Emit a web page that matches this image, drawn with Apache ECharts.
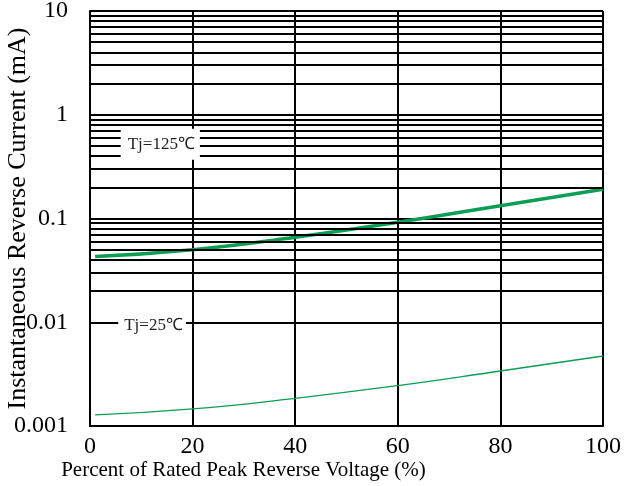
<!DOCTYPE html>
<html><head><meta charset="utf-8">
<script src="https://cdn.jsdelivr.net/npm/echarts@6/dist/echarts.min.js"></script>
<style>html,body{margin:0;padding:0;background:#fff}#c{width:624px;height:486px}</style>
</head><body><div id="c"></div>
<script>
var xTicks = [0, 20, 40, 60, 80, 100];
var yTickLabels = ["0.001", "0.01", "0.1", "1", "10"];
var decades = [0.001, 0.01, 0.1, 1];
var minorMultipliers = [2, 3, 4, 5, 6, 7, 8, 9];
var xPct = [1, 20, 40, 60, 80, 100];
var i125 = [0.043, 0.050, 0.066, 0.092, 0.133, 0.191];
var i25 = [0.00128, 0.00146, 0.00185, 0.00245, 0.00339, 0.00473];
var labels = [
  {text: "Tj=125℃", x: 13.7, y: 0.52},
  {text: "Tj=25℃", x: 12.1, y: 0.0092}
];

var FONT = "Liberation Serif";
var minorLines = [];
decades.forEach(function(d){ minorMultipliers.forEach(function(m){ minorLines.push({yAxis: +(d*m).toPrecision(3)}); }); });

function pairs(xs, ys){ return xs.map(function(x,i){ return [x, ys[i]]; }); }

var chart = echarts.init(document.getElementById('c'), null, {renderer:'canvas'});
chart.setOption({
  animation: false,
  backgroundColor: '#fff',
  grid: {left: 90, right: 21, top: 11, bottom: 60, containLabel: false, outerBoundsMode: 'none'},
  xAxis: {
    type: 'value', min: 0, max: 100, interval: 20,
    name: 'Percent of Rated Peak Reverse Voltage (%)',
    nameLocation: 'middle', nameGap: 34, nameMoveOverlap: false,
    nameTextStyle: {fontFamily: FONT, fontSize: 21, color: '#000', padding: [0, 206, 0, 0]},
    axisLine: {show: true, lineStyle: {color: '#000', width: 2}},
    axisTick: {show: false},
    axisLabel: {fontFamily: FONT, fontSize: 24, color: '#000', margin: 9},
    splitLine: {show: true, lineStyle: {color: '#000', width: 2}}
  },
  yAxis: {
    type: 'log', logBase: 10, min: 0.001, max: 10,
    name: 'Instantaneous Reverse Current (mA)',
    nameLocation: 'middle', nameGap: 59, nameMoveOverlap: false,
    nameTextStyle: {fontFamily: FONT, fontSize: 26, color: '#000'},
    axisLine: {show: true, lineStyle: {color: '#000', width: 2}},
    axisTick: {show: false},
    axisLabel: {fontFamily: FONT, fontSize: 24, color: '#000', margin: 22, padding: [6, 0, 0, 0],
      formatter: function(v){ var k = Math.round(Math.log10(v)) + 3; return yTickLabels[k] || ''; }},
    splitLine: {show: true, lineStyle: {color: '#000', width: 2}}
  },
  series: [
    {type: 'line', data: [], z: 1, silent: true,
     markLine: {silent: true, symbol: ['none','none'], animation: false,
       label: {show: false}, lineStyle: {color: '#000', width: 2, type: 'solid'},
       data: minorLines}},
    {type: 'line', name: 'Tj=125', data: pairs(xPct, i125), smooth: true, showSymbol: false, z: 3,
     lineStyle: {color: '#0a9e55', width: 3.5}},
    {type: 'line', name: 'Tj=25', data: pairs(xPct, i25), smooth: true, showSymbol: false, z: 3,
     lineStyle: {color: '#0a9e55', width: 1.3}},
    {type: 'scatter', z: 5, symbolSize: 0, silent: true, itemStyle: {opacity: 1},
     data: [
       {value: [labels[0].x, labels[0].y], name: labels[0].text, label: {padding: [7, 5, 7, 7]}},
       {value: [labels[1].x, labels[1].y], name: labels[1].text, label: {padding: [1, 3, 1, 6]}}
     ],
     label: {show: true, position: 'inside', formatter: function(p){ return p.name; },
       fontFamily: FONT, fontSize: 17, color: '#222', backgroundColor: '#ffffff', opacity: 1}}
  ]
});
</script></body></html>
